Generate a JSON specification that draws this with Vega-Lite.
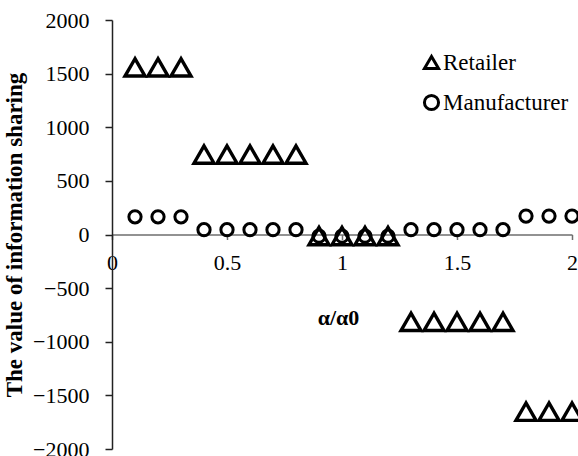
{
  "$schema": "https://vega.github.io/schema/vega-lite/v6.json",
  "autosize": "none",
  "padding": {"left": 112, "top": 20, "right": 6, "bottom": 7},
  "width": 460,
  "height": 429,
  "background": "white",
  "config": {
    "view": {"stroke": null},
    "font": "Liberation Serif",
    "axis": {"grid": false, "labelColor": "black", "titleColor": "black", "labelFont": "Liberation Serif", "titleFont": "Liberation Serif"},
    "legend": {"labelFont": "Liberation Serif"}
  },
  "data": {
    "values": [
      {"x": 0.1, "series": "Retailer", "v": 1558},
      {"x": 0.2, "series": "Retailer", "v": 1558},
      {"x": 0.3, "series": "Retailer", "v": 1558},
      {"x": 0.4, "series": "Retailer", "v": 745},
      {"x": 0.5, "series": "Retailer", "v": 745},
      {"x": 0.6, "series": "Retailer", "v": 745},
      {"x": 0.7, "series": "Retailer", "v": 745},
      {"x": 0.8, "series": "Retailer", "v": 745},
      {"x": 0.9, "series": "Retailer", "v": -15},
      {"x": 1.0, "series": "Retailer", "v": -15},
      {"x": 1.1, "series": "Retailer", "v": -15},
      {"x": 1.2, "series": "Retailer", "v": -15},
      {"x": 1.3, "series": "Retailer", "v": -815},
      {"x": 1.4, "series": "Retailer", "v": -815},
      {"x": 1.5, "series": "Retailer", "v": -815},
      {"x": 1.6, "series": "Retailer", "v": -815},
      {"x": 1.7, "series": "Retailer", "v": -815},
      {"x": 1.8, "series": "Retailer", "v": -1652},
      {"x": 1.9, "series": "Retailer", "v": -1652},
      {"x": 2.0, "series": "Retailer", "v": -1652},
      {"x": 0.1, "series": "Manufacturer", "v": 165},
      {"x": 0.2, "series": "Manufacturer", "v": 165},
      {"x": 0.3, "series": "Manufacturer", "v": 165},
      {"x": 0.4, "series": "Manufacturer", "v": 45},
      {"x": 0.5, "series": "Manufacturer", "v": 45},
      {"x": 0.6, "series": "Manufacturer", "v": 45},
      {"x": 0.7, "series": "Manufacturer", "v": 45},
      {"x": 0.8, "series": "Manufacturer", "v": 45},
      {"x": 0.9, "series": "Manufacturer", "v": -15},
      {"x": 1.0, "series": "Manufacturer", "v": -15},
      {"x": 1.1, "series": "Manufacturer", "v": -15},
      {"x": 1.2, "series": "Manufacturer", "v": -15},
      {"x": 1.3, "series": "Manufacturer", "v": 45},
      {"x": 1.4, "series": "Manufacturer", "v": 45},
      {"x": 1.5, "series": "Manufacturer", "v": 45},
      {"x": 1.6, "series": "Manufacturer", "v": 45},
      {"x": 1.7, "series": "Manufacturer", "v": 45},
      {"x": 1.8, "series": "Manufacturer", "v": 172},
      {"x": 1.9, "series": "Manufacturer", "v": 172},
      {"x": 2.0, "series": "Manufacturer", "v": 172}
    ]
  },
  "encoding": {
    "x": {
      "field": "x", "type": "quantitative",
      "scale": {"domain": [0, 2], "nice": false, "zero": false},
      "axis": {
        "offset": -214.5, "values": [0, 0.5, 1, 1.5, 2], "format": "~g",
        "domainColor": "#6e6e6e", "domainWidth": 1.5, "tickColor": "#6e6e6e", "tickWidth": 1.5, "tickSize": 5,
        "labelFontSize": 22, "labelPadding": 13, "labelFlush": false,
        "title": "α/α0", "titleFontSize": 22, "titleFontWeight": "bold",
        "titleX": 226, "titleY": 83, "titleBaseline": "middle"
      }
    },
    "y": {
      "field": "v", "type": "quantitative",
      "scale": {"domain": [-2000, 2000], "nice": false},
      "axis": {
        "values": [-2000, -1500, -1000, -500, 0, 500, 1000, 1500, 2000], "format": "d",
        "domainColor": "#222222", "domainWidth": 1.5, "tickColor": "#222222", "tickWidth": 1.5, "tickSize": 7,
        "labelFontSize": 22, "labelPadding": 16,
        "title": "The value of information sharing", "titleFontSize": 23, "titleFontWeight": "bold",
        "titlePadding": 6
      }
    },
    "shape": {
      "field": "series", "type": "nominal",
      "scale": {"domain": ["Retailer", "Manufacturer"], "range": ["triangle-up", "circle"]},
      "legend": {
        "title": null, "orient": "none", "legendX": 308, "legendY": 31,
        "labelFontSize": 23, "labelColor": "black",
        "symbolSize": 200, "symbolStrokeWidth": 3, "symbolStrokeColor": "black", "symbolFillColor": "transparent",
        "rowPadding": 14, "labelOffset": 0
      }
    }
  },
  "layer": [
    {
      "transform": [{"filter": "datum.series === 'Manufacturer'"}],
      "mark": {"type": "point", "filled": false, "color": "black", "strokeWidth": 3, "size": 150, "opacity": 1, "clip": false}
    },
    {
      "transform": [{"filter": "datum.series === 'Retailer'"}],
      "mark": {"type": "point", "filled": false, "color": "black", "strokeWidth": 3.4, "size": 400, "opacity": 1, "clip": false}
    }
  ]
}
